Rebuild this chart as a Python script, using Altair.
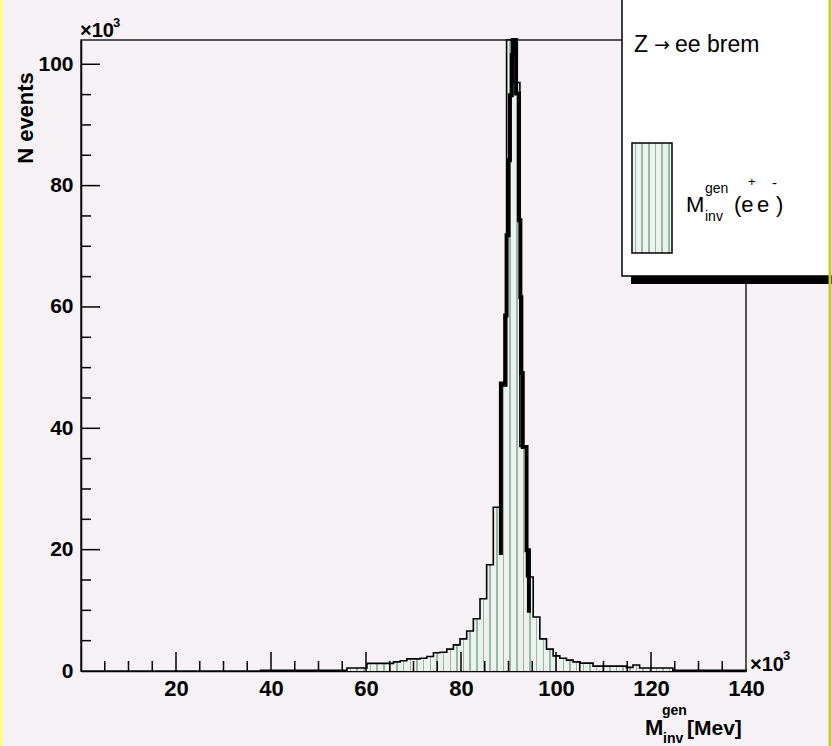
import altair as alt
import pandas as pd

# ---------------- data (values in units of 10^3) ----------------
bin_width = 1.4
x_domain = [0, 140]
y_domain = [0, 104]

# generated invariant mass histogram, 100 bins of 1.4 between 0 and 140
gen_counts = [
    0, 0, 0, 0, 0, 0, 0, 0, 0, 0,
    0, 0, 0, 0, 0, 0, 0, 0, 0, 0,
    0, 0, 0, 0, 0, 0, 0, 0.1, 0.1, 0.1,
    0.1, 0.1, 0.1, 0.1, 0.1, 0.1, 0.1, 0.1, 0.1, 0.1,
    0.5, 0.5, 0.5, 1.25, 1.25, 1.25, 1.25, 1.5, 1.7, 2.0,
    2.0, 2.1, 2.4, 3.0, 3.1, 3.6, 4.3, 5.3, 6.6, 8.6,
    11.9, 17.5, 27.0, 47.0, 104.0, 97.0, 37.0, 15.5, 8.9, 5.3,
    3.6, 2.5, 2.1, 1.8, 1.5, 1.3, 1.3, 0.8, 0.8, 0.8,
    0.8, 0.8, 0.6, 1.0, 0.5, 0.5, 0.5, 0.5, 0.5, 0.1,
    0.1, 0.1, 0.1, 0.1, 0.1, 0.1, 0.1, 0.1, 0.1, 0.1,
]

# thick black overlay around the peak (step outline)
over_edges = [88.4, 89.3, 89.6, 90.0, 90.3, 90.7, 90.9, 91.6, 92.2, 92.5, 92.7, 93.0, 93.8, 94.3]
over_levels = [47.4, 58.6, 71.8, 84.2, 94.9, 101.5, 104.0, 95.2, 74.3, 61.6, 49.1, 36.9, 19.9]
over_start = 19.1
over_end = 9.6

x_tick_labels = [20, 40, 60, 80, 100, 120, 140]
y_tick_labels = [0, 20, 40, 60, 80, 100]
x_major = [20, 40, 60, 80, 100, 120]
x_minor = [5, 10, 15, 25, 30, 35, 45, 50, 55, 65, 70, 75, 85, 90, 95, 105, 110, 115, 125, 130, 135]
y_major = [20, 40, 60, 80, 100]
y_minor = [5, 10, 15, 25, 30, 35, 45, 50, 55, 65, 70, 75, 85, 90, 95]

# ---------------- tables ----------------
bars = pd.DataFrame(
    [{"x0": i * bin_width, "x1": (i + 1) * bin_width, "v": v}
     for i, v in enumerate(gen_counts) if v > 0]
)

first = next(i for i, v in enumerate(gen_counts) if v > 0)
pts = [(first * bin_width, 0.0)]
for i in range(first, len(gen_counts)):
    pts.append((i * bin_width, gen_counts[i]))
    pts.append(((i + 1) * bin_width, gen_counts[i]))
pts.append((len(gen_counts) * bin_width, 0.0))
outline = pd.DataFrame({"i": range(len(pts)), "x": [p[0] for p in pts], "y": [p[1] for p in pts]})

opts = [(over_edges[0], over_start)]
for k, lev in enumerate(over_levels):
    opts.append((over_edges[k], lev))
    opts.append((over_edges[k + 1], lev))
opts.append((over_edges[-1], over_end))
overlay = pd.DataFrame({"i": range(len(opts)), "x": [p[0] for p in opts], "y": [p[1] for p in opts]})

# ---------------- style ----------------
FONT = "Liberation Sans"
ARROW_FONT = "DejaVu Sans"
HATCH_BG = "#eef2ef"
HATCH_LINE = "#98b7a8"
BG = "#f5f1f5"
W, H = 665, 631


def hatch(n):
    """vertical stripe pattern, n stripes across the mark"""
    stops = []
    for k in range(n):
        a = k / n
        stops += [
            alt.GradientStop(color=HATCH_BG, offset=a),
            alt.GradientStop(color=HATCH_BG, offset=a + 0.42 / n),
            alt.GradientStop(color=HATCH_LINE, offset=a + 0.42 / n),
            alt.GradientStop(color=HATCH_LINE, offset=a + 0.64 / n),
            alt.GradientStop(color=HATCH_BG, offset=a + 0.64 / n),
        ]
    stops.append(alt.GradientStop(color=HATCH_BG, offset=1))
    return alt.LinearGradient(gradient="linear", stops=stops, x1=0, x2=1, y1=0, y2=0)


xs = alt.Scale(domain=x_domain, nice=False, zero=False)
ys = alt.Scale(domain=y_domain, nice=False, zero=True)
xaxis = alt.Axis(values=x_tick_labels, ticks=False, grid=False, title=None,
                 labelFont=FONT, labelFontSize=22, labelFontWeight="bold", labelColor="black",
                 labelPadding=7, domainColor="black", domainWidth=1.5, labelFlush=False)
yaxis = alt.Axis(values=y_tick_labels, ticks=False, grid=False, title=None,
                 labelFont=FONT, labelFontSize=21, labelFontWeight="bold", labelColor="black",
                 labelPadding=8, domainColor="black", domainWidth=1.5, labelFlush=False)


def X(field):
    return alt.X(field, scale=xs, axis=xaxis)


def Y(field):
    return alt.Y(field, scale=ys, axis=yaxis)


hist = alt.Chart(bars).mark_rect(fill=hatch(1), strokeWidth=0).encode(
    x=X("x0:Q"), x2="x1:Q", y=Y("v:Q"), y2=alt.datum(0)
)
hist_line = alt.Chart(outline).mark_line(color="black", strokeWidth=1.6, interpolate="linear").encode(
    x=X("x:Q"), y=Y("y:Q"), order="i:Q"
)
over_line = alt.Chart(overlay).mark_line(color="black", strokeWidth=4, strokeCap="butt",
                                         strokeJoin="miter").encode(
    x=X("x:Q"), y=Y("y:Q"), order="i:Q"
)


def xticks(vals, length):
    return alt.Chart(pd.DataFrame({"v": vals})).mark_rule(color="black", strokeWidth=1.5).encode(
        x=X("v:Q"), y=alt.value(H), y2=alt.value(H - length)
    )


def yticks(vals, length):
    return alt.Chart(pd.DataFrame({"v": vals})).mark_rule(color="black", strokeWidth=1.5).encode(
        y=Y("v:Q"), x=alt.value(0), x2=alt.value(length)
    )


def txt(s, x, y, size, weight="normal", font=FONT, align="left", baseline="alphabetic", angle=0):
    return alt.Chart(pd.DataFrame({"t": [s]})).mark_text(
        align=align, baseline=baseline, fontSize=size, fontWeight=weight, font=font,
        angle=angle, color="black"
    ).encode(x=alt.value(x), y=alt.value(y), text="t:N")


def box(x1, x2, y1, y2, fill, stroke=None, sw=0):
    kw = dict(fill=fill, strokeWidth=sw)
    if stroke:
        kw["stroke"] = stroke
    return alt.Chart(pd.DataFrame({"a": [0]})).mark_rect(**kw).encode(
        x=alt.value(x1), x2=alt.value(x2), y=alt.value(y1), y2=alt.value(y2)
    )


def vrule(x, color, sw):
    return alt.Chart(pd.DataFrame({"a": [0]})).mark_rule(color=color, strokeWidth=sw).encode(
        x=alt.value(x), y=alt.value(-45), y2=alt.value(H + 80)
    )


legend_layers = [
    box(550, 760, 236, 244, "black"),
    box(541, 760, -50, 236, "white", "black", 1.5),
    box(551, 591, 103, 213, hatch(6), "black", 1.5),
    txt("Z", 553, 12, 23),
    txt("\u2192", 573, 11, 19, font=ARROW_FONT),
    txt("ee brem", 594, 12, 23),
    txt("M", 605, 172, 22),
    txt("gen", 624, 153, 14),
    txt("inv", 624, 181, 14),
    txt("(e", 653, 172, 22),
    txt("+", 667, 146, 13),
    txt("e", 676, 172, 22),
    txt("-", 691, 148, 15),
    txt(")", 695, 172, 22),
]

text_layers = [
    txt("\u00d710", -1, -3, 20, weight="bold"),
    txt("3", 32, -13, 13, weight="bold"),
    txt("\u00d710", 669, 631, 20, weight="bold"),
    txt("3", 702, 620, 13, weight="bold"),
    txt("N events", -55, 78, 22, weight="bold", align="center", baseline="middle", angle=270),
    txt("M", 564, 695, 22, weight="bold"),
    txt("gen", 581, 675, 14, weight="bold"),
    txt("inv", 582, 703, 14, weight="bold"),
    txt("[Mev]", 606, 695, 21, weight="bold"),
]

chart = alt.layer(
    hist, hist_line, over_line,
    xticks(x_major, 19), xticks(x_minor, 10),
    yticks(y_major, 19), yticks(y_minor, 10),
    *legend_layers, *text_layers,
    vrule(-80, "#ffff70", 3), vrule(749, "#c8c832", 3),
).properties(
    width=W, height=H,
    padding={"left": 81, "top": 40, "right": 86, "bottom": 75},
    autosize=alt.AutoSizeParams(type="none"),
    background=BG,
).configure_view(stroke="#222222", strokeWidth=1.5)

chart.save("out.html", embed_options={"renderer": "svg", "actions": False})
